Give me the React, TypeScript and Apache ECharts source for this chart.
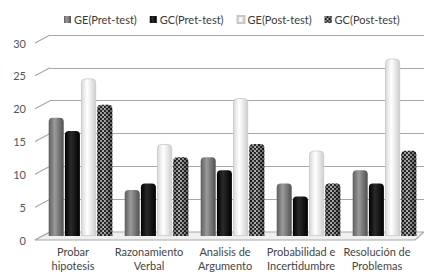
import React, { useEffect, useRef } from 'react';
import * as echarts from 'echarts';

const categories = [
  'Probar\nhipotesis',
  'Razonamiento\nVerbal',
  'Analisis de\nArgumento',
  'Probabilidad e\nIncertidumbre',
  'Resolución de\nProblemas',
];
const seriesNames = ['GE(Pret-test)', 'GC(Pret-test)', 'GE(Post-test)', 'GC(Post-test)'];
const gePre = [18, 7, 12, 8, 10];
const gcPre = [16, 8, 10, 6, 8];
const gePost = [24, 14, 21, 13, 27];
const gcPost = [20, 12, 14, 8, 13];
const yTicks = [0, 5, 10, 15, 20, 25, 30];

const W = 424;
const H = 274;
const FRONT = { left: 35, right: 9, top: 43, bottom: 34 };
const MID = { left: 42.5, right: 1.5, top: 39, bottom: 38 };
const BACK = { left: 50, right: 0, top: 35, bottom: 42 };

const cyl = (a: string, b: string, c: string) => ({
  type: 'linear', x: 0, y: 0, x2: 1, y2: 0,
  colorStops: [
    { offset: 0, color: a },
    { offset: 0.4, color: b },
    { offset: 1, color: c },
  ],
});

export default function App() {
  const ref = useRef<HTMLDivElement>(null);
  useEffect(() => {
    if (!ref.current) return;
    const chart = echarts.init(ref.current, null, { renderer: 'svg' });
    const yAxisBase = { type: 'value', min: 0, max: 30, interval: 5 };
    const barBase = {
      type: 'bar',
      xAxisIndex: 1,
      yAxisIndex: 1,
      barWidth: 15,
      barGap: '8%',
      z: 3,
    };
    chart.setOption({
      animation: false,
      backgroundColor: '#ffffff',
      legend: {
        top: 9,
        left: 59,
        itemWidth: 7,
        itemHeight: 7,
        itemGap: 13,
        icon: 'rect',
        textStyle: { fontSize: 11, color: '#3a3a3a', fontFamily: 'Lato', padding: [0, 0, 0, -2] },
        data: seriesNames,
      },
      grid: [
        { left: FRONT.left, right: FRONT.right, top: FRONT.top, bottom: FRONT.bottom },
        { left: MID.left, right: MID.right, top: MID.top, bottom: MID.bottom },
        { left: BACK.left, right: BACK.right, top: BACK.top, bottom: BACK.bottom },
      ],
      xAxis: [
        {
          gridIndex: 0, type: 'category', data: categories,
          axisLine: { show: false }, axisTick: { show: false },
          axisLabel: { fontSize: 11, color: '#444', lineHeight: 14, margin: 4, interval: 0, fontFamily: 'Lato' },
        },
        { gridIndex: 1, type: 'category', data: categories, show: false },
        { gridIndex: 2, type: 'category', data: categories, show: false },
      ],
      yAxis: [
        {
          ...yAxisBase, gridIndex: 0,
          splitLine: { show: false }, axisLine: { show: false }, axisTick: { show: false },
          axisLabel: { fontSize: 11, color: '#555', margin: 9, fontFamily: 'Lato' },
        },
        { ...yAxisBase, gridIndex: 1, show: false, splitLine: { show: false } },
        {
          ...yAxisBase, gridIndex: 2,
          axisLine: { show: false }, axisTick: { show: false }, axisLabel: { show: false },
          splitLine: { show: true, lineStyle: { color: '#a8a8a8', width: 1.2 } },
        },
      ],
      series: [
        {
          ...barBase, name: seriesNames[0], data: gePre,
          itemStyle: { color: cyl('#5e5e5e', '#9a9a9a', '#505050'), borderRadius: [4, 4, 0, 0] },
        },
        {
          ...barBase, name: seriesNames[1], data: gcPre,
          itemStyle: { color: cyl('#000000', '#2a2a2a', '#000000'), borderRadius: [4, 4, 0, 0] },
        },
        {
          ...barBase, name: seriesNames[2], data: gePost,
          itemStyle: {
            color: cyl('#d8d8d8', '#ffffff', '#cfcfcf'), borderRadius: [4, 4, 0, 0],
            borderColor: '#c8c8c8', borderWidth: 0.8,
          },
        },
        {
          ...barBase, name: seriesNames[3], data: gcPost,
          itemStyle: {
            color: cyl('#6a6a6a', '#b0b0b0', '#5a5a5a'), borderRadius: [4, 4, 0, 0],
            decal: {
              symbol: 'rect', symbolSize: 1, color: 'rgba(0,0,0,0.75)',
              dashArrayX: [[2, 2], [0, 2, 2, 0]], dashArrayY: [2, 0],
            },
          },
        },
      ],
    });

    // 3D wall decoration: diagonals from front labels to back wall, and floor
    const gfx: any[] = [];
    const frontLeft = FRONT.left;
    const backLeft = BACK.left;
    yTicks.forEach((v) => {
      const yf = chart.convertToPixel({ yAxisIndex: 0 }, v) as number;
      const yb = chart.convertToPixel({ yAxisIndex: 2 }, v) as number;
      gfx.push({
        type: 'line', z: 1, silent: true,
        shape: { x1: frontLeft, y1: yf, x2: backLeft, y2: yb },
        style: { stroke: '#a8a8a8', lineWidth: 1.2 },
      });
    });
    const y0f = chart.convertToPixel({ yAxisIndex: 0 }, 0) as number;
    const y0b = chart.convertToPixel({ yAxisIndex: 2 }, 0) as number;
    const frontRight = W - FRONT.right;
    gfx.push({
      type: 'polygon', z: 1, silent: true,
      shape: { points: [[frontLeft, y0f], [frontRight, y0f], [W, y0b], [backLeft, y0b]] },
      style: { fill: '#f0f0f0', stroke: '#a8a8a8', lineWidth: 1.2 },
    });
    chart.setOption({ graphic: gfx });

    return () => chart.dispose();
  }, []);
  return (
    <div
      ref={ref}
      style={{ position: 'fixed', left: 0, top: 0, width: W, height: H }}
    />
  );
}
